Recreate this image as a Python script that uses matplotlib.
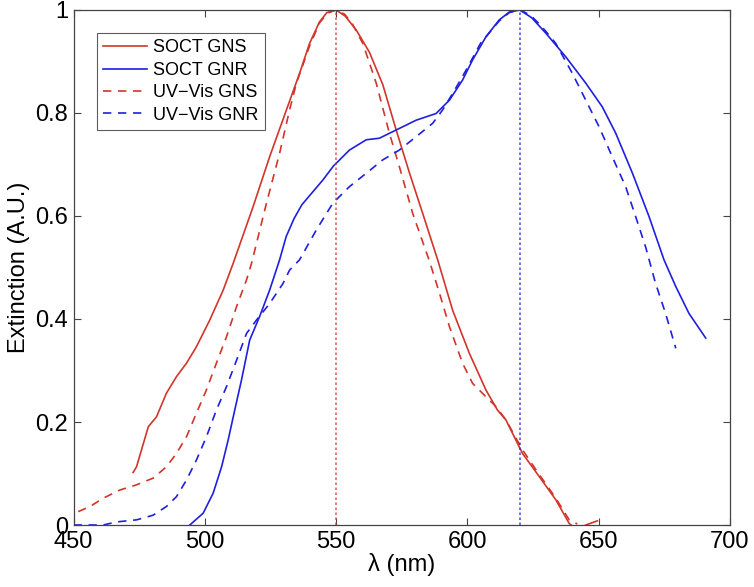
import matplotlib

matplotlib.use("Agg")
import matplotlib.pyplot as plt

plt.rcParams["font.family"] = ["Liberation Sans", "DejaVu Sans"]

RED = "#d2352a"
BLUE = "#1f1fe0"

# SOCT GNS (red solid)
soct_gns_x = [472.7, 474.0, 475.9, 478.5, 481.6, 485.4, 489.2, 493.0, 496.8, 501.9,
              507.0, 510.8, 518.4, 524.7, 531.1, 536.1, 539.9, 543.7, 546.5, 550.0,
              553.5, 557.7, 562.7, 567.8, 572.9, 578.0, 583.0, 588.7, 594.4, 600.8,
              607.1, 611.5, 614.7, 621.0, 627.4, 633.7, 638.8, 642.0, 645.1, 649.5]
soct_gns_y = [0.102, 0.113, 0.146, 0.191, 0.210, 0.256, 0.288, 0.314, 0.346, 0.398,
              0.456, 0.508, 0.618, 0.715, 0.806, 0.877, 0.935, 0.977, 0.995, 1.000,
              0.988, 0.961, 0.918, 0.855, 0.767, 0.683, 0.605, 0.515, 0.417, 0.333,
              0.262, 0.223, 0.204, 0.139, 0.094, 0.049, 0.003, -0.01, 0.0, 0.008]

# SOCT GNR (blue solid)
soct_gnr_x = [494.3, 499.4, 503.2, 506.4, 508.9, 511.4, 514.0, 517.1, 520.9, 524.7,
              528.5, 531.0, 534.0, 537.0, 541.0, 545.0, 549.0, 555.1, 561.5, 566.5,
              572.9, 580.5, 588.1, 593.2, 598.2, 602.0, 607.1, 612.2, 616.0, 620.0,
              624.5, 629.9, 637.5, 645.1, 651.4, 656.5, 662.9, 669.2, 674.9, 679.4,
              684.4, 690.8]
soct_gnr_y = [0.000, 0.023, 0.062, 0.113, 0.165, 0.223, 0.282, 0.359, 0.405, 0.456,
              0.515, 0.560, 0.595, 0.622, 0.646, 0.670, 0.697, 0.728, 0.748, 0.751,
              0.767, 0.786, 0.799, 0.825, 0.864, 0.903, 0.948, 0.981, 0.996, 1.000,
              0.985, 0.955, 0.909, 0.858, 0.812, 0.761, 0.683, 0.599, 0.515, 0.463,
              0.411, 0.363]

# UV-Vis GNS (red dashed)
uv_gns_x = [451.8, 456.3, 461.3, 467.7, 474.0, 480.3, 485.4, 489.2, 493.0, 496.8,
            500.6, 504.4, 508.3, 512.1, 515.9, 517.8, 523.5, 528.5, 532.3, 534.9,
            539.9, 543.7, 546.8, 550.0, 553.2, 556.0, 560.2, 565.3, 570.3, 574.1,
            579.2, 585.6, 589.4, 593.2, 598.2, 602.0, 607.1, 610.9, 614.7, 621.0,
            627.4, 633.7, 638.8, 641.9]
uv_gns_y = [0.026, 0.036, 0.052, 0.068, 0.078, 0.091, 0.113, 0.139, 0.171, 0.217,
            0.262, 0.314, 0.366, 0.424, 0.476, 0.508, 0.625, 0.722, 0.806, 0.858,
            0.930, 0.975, 0.994, 1.000, 0.992, 0.975, 0.935, 0.858, 0.761, 0.696,
            0.605, 0.512, 0.450, 0.385, 0.314, 0.275, 0.249, 0.230, 0.204, 0.146,
            0.098, 0.052, 0.010, 0.002]

# UV-Vis GNR (blue dashed)
uv_gnr_x = [450.0, 455.0, 461.3, 466.4, 474.0, 480.3, 485.4, 489.2, 493.0, 496.8,
            500.6, 504.4, 508.3, 512.1, 515.9, 519.7, 524.7, 529.8, 532.3, 536.1,
            542.5, 548.8, 555.1, 561.5, 567.8, 574.1, 580.5, 586.8, 590.6, 595.0,
            599.5, 605.0, 612.0, 616.0, 620.0, 624.0, 627.0, 630.0, 633.7, 640.0,
            645.1, 650.2, 655.2, 660.3, 664.1, 667.9, 671.7, 675.5, 679.4]
uv_gnr_y = [0.000, 0.000, 0.000, 0.006, 0.010, 0.019, 0.036, 0.055, 0.087, 0.126,
            0.171, 0.223, 0.269, 0.320, 0.372, 0.398, 0.430, 0.469, 0.495, 0.515,
            0.573, 0.625, 0.657, 0.683, 0.709, 0.728, 0.754, 0.780, 0.806, 0.843,
            0.883, 0.935, 0.978, 0.995, 1.000, 0.990, 0.975, 0.958, 0.935, 0.877,
            0.825, 0.773, 0.715, 0.657, 0.599, 0.540, 0.469, 0.411, 0.343]

PEAK_GNS = 550
PEAK_GNR = 620


def main() -> None:
    fig = plt.figure(figsize=(7.54, 5.87), dpi=100)
    ax = fig.add_axes([0.0975, 0.1056, 0.8705, 0.8774])

    ax.plot(soct_gns_x, soct_gns_y, color=RED, linewidth=1.2, label="SOCT GNS")
    ax.plot(soct_gnr_x, soct_gnr_y, color=BLUE, linewidth=1.2, label="SOCT GNR")
    ax.plot(uv_gns_x, uv_gns_y, color=RED, linewidth=1.2, linestyle=(0, (5, 4)),
            label="UV\u2212Vis GNS")
    ax.plot(uv_gnr_x, uv_gnr_y, color=BLUE, linewidth=1.2, linestyle=(0, (5, 4)),
            label="UV\u2212Vis GNR")

    # peak markers
    ax.plot([PEAK_GNS, PEAK_GNS], [0, 1], color=RED, linewidth=1.2,
            linestyle=(0, (1.5, 1.5)), alpha=0.75)
    ax.plot([PEAK_GNR, PEAK_GNR], [0, 1], color=BLUE, linewidth=1.2,
            linestyle=(0, (1.5, 1.5)), alpha=0.75)

    ax.set_xlim(450, 700)
    ax.set_ylim(0, 1)
    ax.set_xticks([450, 500, 550, 600, 650, 700])
    ax.set_yticks([0, 0.2, 0.4, 0.6, 0.8, 1])
    ax.set_yticklabels(["0", "0.2", "0.4", "0.6", "0.8", "1"])
    ax.tick_params(direction="in", top=True, right=True, length=5,
                   width=0.8, color="#444444", labelsize=17, pad=4)
    for sp in ax.spines.values():
        sp.set_color("#444444")
        sp.set_linewidth(0.9)

    ax.set_xlabel("\u03bb (nm)", fontsize=17, labelpad=0)
    ax.set_ylabel("Extinction (A.U.)", fontsize=17, labelpad=4)

    leg = ax.legend(loc="upper left", bbox_to_anchor=(0.036, 0.955),
                    fontsize=13, frameon=True, fancybox=False,
                    handlelength=2.4, borderpad=0.35, labelspacing=0.3,
                    handletextpad=0.35, borderaxespad=0)
    leg.get_frame().set_edgecolor("#333333")
    leg.get_frame().set_linewidth(0.8)

    fig.savefig("out.png", dpi=100)


if __name__ == "__main__":
    main()
